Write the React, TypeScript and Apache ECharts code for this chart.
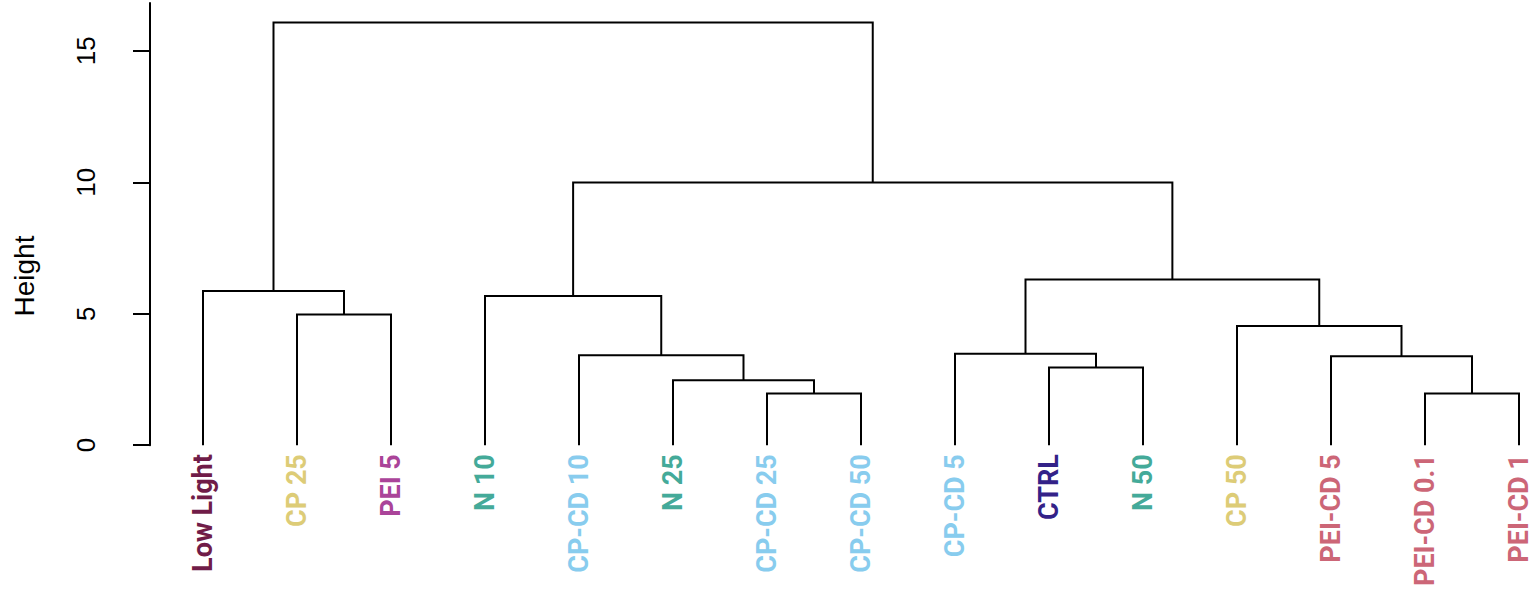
import React, { useEffect, useRef } from "react";
import * as echarts from "echarts";

// Leaf labels in dendrogram order
const leafLabels = [
  "Low Light", "CP 25", "PEI 5", "N 10", "CP-CD 10", "N 25", "CP-CD 25", "CP-CD 50",
  "CP-CD 5", "CTRL", "N 50", "CP 50", "PEI-CD 5", "PEI-CD 0.1", "PEI-CD 1",
];
const leafColors = [
  "#701C48", "#DDCC77", "#AA4499", "#44AA99", "#88CCEE", "#44AA99", "#88CCEE", "#88CCEE",
  "#88CCEE", "#332288", "#44AA99", "#DDCC77", "#CC6677", "#CC6677", "#CC6677",
];
// R-style merge matrix: negative = leaf (1-based), positive = earlier merge (1-based)
const mergeLeft = [-7, -14, -6, -10, -13, -5, -9, -12, -2, -4, -1, 7, 10, 11];
const mergeRight = [-8, -15, 1, -11, 2, 3, 4, 5, -3, 6, 9, 8, 12, 13];
const mergeHeights = [1.96, 1.96, 2.47, 2.95, 3.38, 3.42, 3.48, 4.53, 4.97, 5.67, 5.86, 6.3, 9.99, 16.08];
const yTicks = [0, 5, 10, 15];

export default function App() {
  const ref = useRef<HTMLDivElement>(null);
  useEffect(() => {
    if (!ref.current) return;
    const chart = echarts.init(ref.current, null, { renderer: "svg" });

    const mx: number[] = [];
    const pos = (c: number) => (c < 0 ? -c - 1 : mx[c - 1]);
    const hgt = (c: number) => (c < 0 ? 0 : mergeHeights[c - 1]);
    const linesData = mergeLeft.map((l, i) => {
      const r = mergeRight[i];
      const h = mergeHeights[i];
      const xl = pos(l);
      const xr = pos(r);
      mx.push((xl + xr) / 2);
      return {
        coords: [
          [xl, hgt(l)],
          [xl, h],
          [xr, h],
          [xr, hgt(r)],
        ],
      };
    });

    const rich: Record<string, any> = {};
    leafColors.forEach((c, i) => {
      rich["c" + i] = {
        color: c,
        fontFamily: "Roboto",
        fontWeight: "bold",
        fontSize: 27,
      };
    });

    const option: any = {
      animation: false,
      backgroundColor: "#ffffff",
      grid: { left: 150, right: 5, top: 3, bottom: 143, containLabel: false },
      xAxis: {
        type: "value",
        min: -0.5638,
        max: 14.117,
        axisLine: { show: false, onZero: false },
        axisTick: { show: false },
        splitLine: { show: false },
        axisLabel: {
          customValues: leafLabels.map((_, i) => i),
          rotate: 90,
          margin: 9,
          formatter: (v: number) => {
            const i = Math.round(v);
            return `{c${i}|${leafLabels[i]}}`;
          },
          rich,
        },
      },
      yAxis: {
        type: "value",
        min: 0,
        max: 16.82,
        splitLine: { show: false },
        axisLine: { show: true, onZero: false, lineStyle: { color: "#000", width: 2 } },
        axisTick: {
          show: true,
          customValues: yTicks,
          length: 17,
          lineStyle: { color: "#000", width: 2 },
        },
        axisLabel: {
          customValues: yTicks,
          rotate: 90,
          margin: 51,
          fontSize: 26,
          color: "#000",
          fontFamily: "Liberation Sans",
        },
      },
      graphic: [
        {
          type: "text",
          x: 24,
          y: 276,
          rotation: Math.PI / 2,
          style: {
            text: "Height",
            fontSize: 28,
            fontFamily: "Liberation Sans",
            fill: "#000",
            textAlign: "center",
            textVerticalAlign: "middle",
          },
        },
      ],
      series: [
        {
          type: "lines",
          coordinateSystem: "cartesian2d",
          polyline: true,
          silent: true,
          lineStyle: { color: "#000", width: 2, opacity: 1 },
          data: linesData,
        },
      ],
    };
    chart.setOption(option);
    return () => chart.dispose();
  }, []);
  return (
    <div
      ref={ref}
      style={{ position: "fixed", left: 0, top: 0, width: 1535, height: 589 }}
    />
  );
}
